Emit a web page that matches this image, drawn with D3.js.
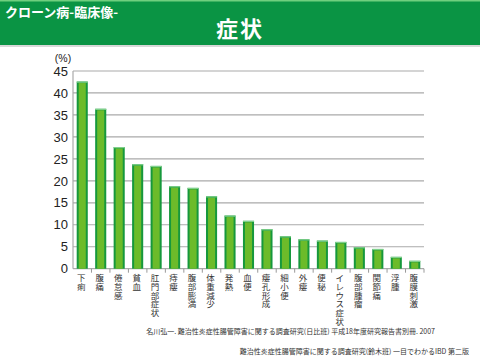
<!DOCTYPE html>
<html><head><meta charset="utf-8">
<script src="https://cdn.jsdelivr.net/npm/d3@7/dist/d3.min.js"></script>
<style>
html,body{margin:0;padding:0;background:#fff;}
svg{display:block;}
</style></head>
<body>
<svg id="chart" width="480" height="360"></svg>
<script>
const categories = ["下痢","腹痛","倦怠感","貧血","肛門部症状","痔瘻","腹部膨満","体重減少","発熱","血便","瘻孔形成","細小便","外瘻","便秘","イレウス症状","腹部腫瘤","関節痛","浮腫","腹膜刺激"];
const values = [42.6,36.4,27.7,23.8,23.4,18.8,18.4,16.5,12.1,10.9,9.0,7.4,6.7,6.4,6.1,4.9,4.5,2.7,1.8];
const yTicks = [0,5,10,15,20,25,30,35,40,45];
const headerSub = "クローン病-臨床像-";
const headerTitle = "症状";
const unitLabel = "(%)";
const sources = ["名川弘一. 難治性炎症性腸管障害に関する調査研究(日比班)  平成18年度研究報告書別冊. 2007",
                 "難治性炎症性腸管障害に関する調査研究(鈴木班)  一目でわかるIBD  第二版"];

const svg = d3.select("#chart");
const jp = "'Noto Sans CJK JP','Noto Sans',sans-serif";
const num = "'Liberation Sans',Arial,sans-serif";

// header
svg.append("rect").attr("x",0).attr("y",44).attr("width",480).attr("height",3).attr("fill","#d8d8d8");
svg.append("rect").attr("x",0).attr("y",0).attr("width",480).attr("height",45).attr("fill","#0a9444");
svg.append("rect").attr("x",0).attr("y",0).attr("width",480).attr("height",1.5).attr("fill","#6fcf7f");
svg.append("text").attr("x",5).attr("y",17).text(headerSub)
  .attr("font-family",jp).attr("font-weight","bold").attr("font-size",13).attr("fill","#fff");
svg.append("text").attr("x",240).attr("y",37).attr("text-anchor","middle").text(headerTitle)
  .attr("font-family",jp).attr("font-weight","bold").attr("font-size",22).attr("fill","#fff")
  .attr("letter-spacing",2);

const pLeft = 73, pRight = 424, pTop = 71, pBottom = 268.7;
const x = d3.scaleBand().domain(categories).range([pLeft,pRight]).paddingInner(0.4).paddingOuter(0.2);
const y = d3.scaleLinear().domain([0,45]).range([pBottom,pTop]);

// grid
svg.append("g").selectAll("line").data(yTicks).join("line")
  .attr("x1",pLeft).attr("x2",pRight).attr("y1",d=>y(d)).attr("y2",d=>y(d))
  .attr("stroke","#aaaaaa").attr("stroke-width",1.2);
svg.append("line").attr("x1",pLeft).attr("x2",pLeft).attr("y1",pTop).attr("y2",pBottom)
  .attr("stroke","#aaaaaa").attr("stroke-width",1.2);

// y axis labels
const yAxis = d3.axisLeft(y).tickValues(yTicks).tickSize(0).tickPadding(4);
const gy = svg.append("g").attr("transform",`translate(${pLeft-1},0)`).call(yAxis);
gy.select(".domain").remove();
gy.selectAll("text").attr("font-family",num).attr("font-size",13).attr("fill","#222");

svg.append("text").attr("x",63).attr("y",62).attr("text-anchor","middle").text(unitLabel)
  .attr("font-family",num).attr("font-size",10.5).attr("fill","#222");

// x ticks at band boundaries
const step = x.step();
const bounds = d3.range(1, categories.length+1).map(i => x(categories[i-1]) + x.bandwidth() + (step - x.bandwidth())/2);
svg.append("g").selectAll("line").data(bounds).join("line")
  .attr("x1",d=>d).attr("x2",d=>d).attr("y1",pBottom).attr("y2",pBottom+4)
  .attr("stroke","#999").attr("stroke-width",1);

// bars
const bars = svg.append("g").selectAll("g").data(categories).join("g");
bars.append("rect")
  .attr("x",d=>x(d)).attr("width",x.bandwidth())
  .attr("y",(d,i)=>y(values[i])).attr("height",(d,i)=>pBottom - y(values[i]))
  .attr("fill","#16983c");
bars.append("rect")
  .attr("x",d=>x(d)+2).attr("width",x.bandwidth()-4)
  .attr("y",(d,i)=>y(values[i])+1.5).attr("height",(d,i)=>Math.max(0,pBottom - y(values[i])-1.5))
  .attr("fill","#6cbb2a");
bars.append("rect")
  .attr("x",d=>x(d)).attr("width",x.bandwidth())
  .attr("y",(d,i)=>y(values[i])).attr("height",1.2)
  .attr("fill","#7fd08a");

// category labels (vertical stacked)
const lab = svg.append("g").selectAll("text").data(categories).join("text")
  .attr("font-family",jp).attr("font-size",8.5).attr("fill","#333").attr("text-anchor","middle");
lab.each(function(d){
  const cx = x(d) + x.bandwidth()/2 - 1;
  const t = d3.select(this);
  Array.from(d).forEach((ch,k)=>{
    t.append("tspan").attr("x",cx).attr("y",281 + k*8.8).text(ch);
  });
});

// sources
svg.append("text").attr("x",435).attr("y",334).attr("text-anchor","end").text(sources[0])
  .attr("font-family",jp).attr("font-size",7).attr("fill","#333");
svg.append("text").attr("x",469).attr("y",354).attr("text-anchor","end").text(sources[1])
  .attr("font-family",jp).attr("font-size",7).attr("fill","#333");
</script>
</body></html>
